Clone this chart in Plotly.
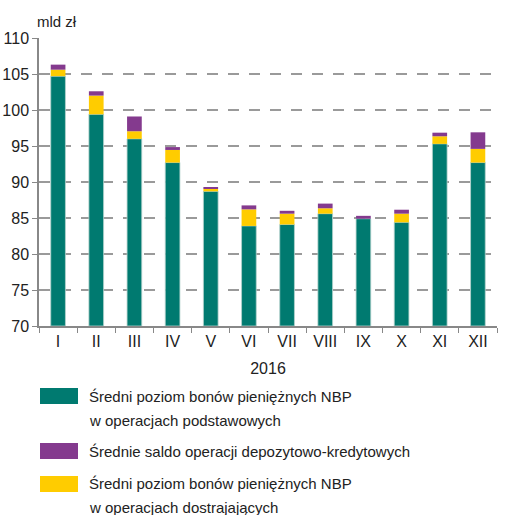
import plotly.graph_objects as go

months = ["I", "II", "III", "IV", "V", "VI", "VII", "VIII", "IX", "X", "XI", "XII"]
podstawowe = [104.7, 99.4, 96.0, 92.7, 88.7, 83.9, 84.1, 85.6, 84.9, 84.4, 95.3, 92.7]
dostrajajace = [0.9, 2.6, 1.05, 1.75, 0.35, 2.3, 1.5, 0.75, 0.0, 1.2, 1.05, 1.9]
saldo = [0.7, 0.6, 2.05, 0.4, 0.25, 0.55, 0.4, 0.65, 0.4, 0.55, 0.5, 2.3]

legend_lines = [
    ["Średni poziom bonów pieniężnych NBP", "w operacjach podstawowych"],
    ["Średnie saldo operacji depozytowo-kredytowych"],
    ["Średni poziom bonów pieniężnych NBP", "w operacjach dostrajających"],
]

TEAL = "#007A70"
PURPLE = "#843A8E"
YELLOW = "#FFCC00"

FONT = "Liberation Sans, Arial, sans-serif"

W, H = 506, 515
ML, MR, MT, MB = 39, 9, 38, 189

fig = go.Figure()
base2 = [p + d for p, d in zip(podstawowe, dostrajajace)]
edge = dict(width=1, color="rgba(180,210,205,0.8)")
fig.add_bar(x=months, y=[p - 70 for p in podstawowe], base=70, marker=dict(color=TEAL, line=edge), width=0.385)
fig.add_bar(x=months, y=dostrajajace, base=podstawowe, marker=dict(color=YELLOW, line=dict(width=0)), width=0.385)
fig.add_bar(x=months, y=saldo, base=base2, marker=dict(color=PURPLE, line=dict(width=0)), width=0.385)

fig.update_layout(
    width=W, height=H,
    margin=dict(l=ML, r=MR, t=MT, b=MB),
    barmode="overlay",
    showlegend=False,
    plot_bgcolor="white", paper_bgcolor="white",
    font=dict(family=FONT, color="#222", size=16),
)
fig.update_xaxes(
    range=[-0.5, 11.5], automargin=False,
    showline=True, linecolor="#888", linewidth=1.5,
    ticks="outside", tickson="boundaries", ticklen=5, tickcolor="#888",
    tickfont=dict(size=16, family=FONT),
    title=dict(text="2016", font=dict(size=16, family=FONT), standoff=14),
    showgrid=False,
)
fig.update_yaxes(
    range=[70, 110], dtick=5, tick0=70, automargin=False,
    showline=True, linecolor="#888", linewidth=1.5,
    ticks="outside", ticklen=5, tickcolor="#888",
    tickfont=dict(size=16, family=FONT),
    showgrid=True, gridcolor="#9a9a9a", gridwidth=1.5, griddash="11px,10px",
    zeroline=False,
)

ph = H - MT - MB
pw = W - ML - MR

def py(pix):
    return (H - MB - pix) / ph

def px(pix):
    return (pix - ML) / pw

fig.add_annotation(text="mld zł", x=px(35), y=py(22), xref="paper", yref="paper",
                   xanchor="left", yanchor="middle", showarrow=False,
                   font=dict(size=15, family=FONT))

colors = [TEAL, PURPLE, YELLOW]
box_tops = [388, 443, 476]
text_y = [[396, 420], [451], [483, 507]]
for c, bt, tys, lines in zip(colors, box_tops, text_y, legend_lines):
    fig.add_shape(type="rect", xref="paper", yref="paper",
                  x0=px(40), x1=px(78), y0=py(bt), y1=py(bt + 16),
                  fillcolor=c, line=dict(width=0))
    for ty, ln in zip(tys, lines):
        fig.add_annotation(text=ln, x=px(87), y=py(ty), xref="paper", yref="paper",
                           xanchor="left", yanchor="middle", align="left", showarrow=False,
                           font=dict(size=15, family=FONT))

fig.write_html("out.html", config={"displayModeBar": False},
               post_script="document.body.style.margin='0px';")
